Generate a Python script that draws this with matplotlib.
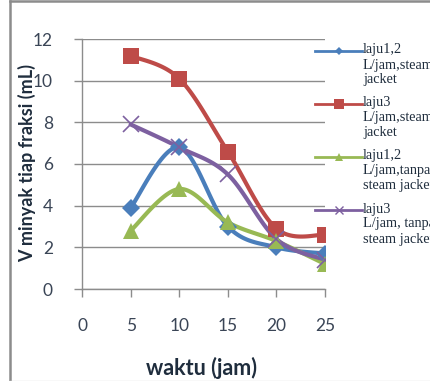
import numpy as np
import matplotlib
matplotlib.use("Agg")
import matplotlib.pyplot as plt
from matplotlib.lines import Line2D

# waktu (jam) dan volume minyak tiap fraksi (mL)
waktu = [5, 10, 15, 20, 25]
laju12_steam = [3.9, 6.8, 3.0, 2.0, 1.7]
laju3_steam = [11.2, 10.1, 6.6, 2.9, 2.6]
laju12_tanpa = [2.8, 4.8, 3.2, 2.3, 1.2]
laju3_tanpa = [7.9, 6.8, 5.5, 2.4, 1.4]

labels = ["laju1,2\nL/jam,steam\njacket",
          "laju3\nL/jam,steam\njacket",
          "laju1,2\nL/jam,tanpa\nsteam jacket",
          "laju3\nL/jam, tanpa\nsteam jacket"]

warna = ["#4a7ebb", "#be4b48", "#98b954", "#7d60a0"]
marker = ["D", "s", "^", "x"]
msize = [9, 12, 12, 11]
lmsize = [4, 7, 6, 6]


def smooth(x, y, n=30):
    # kurva halus ala Excel: bezier kubik dengan titik kontrol catmull-rom
    x = np.asarray(x, float)
    y = np.asarray(y, float)
    p = np.column_stack([x, y])
    pp = np.vstack([p[0], p, p[-1]])
    t = np.linspace(0, 1, n)[:, None]
    out = []
    for i in range(len(p) - 1):
        p0, p1, p2, p3 = pp[i], pp[i + 1], pp[i + 2], pp[i + 3]
        c1 = p1 + (p2 - p0) / 6
        c2 = p2 - (p3 - p1) / 6
        seg = ((1 - t) ** 3) * p1 + 3 * ((1 - t) ** 2) * t * c1 \
            + 3 * (1 - t) * t ** 2 * c2 + t ** 3 * p2
        out.append(seg if i == 0 else seg[1:])
    s = np.vstack(out)
    return s[:, 0], s[:, 1]


fig = plt.figure(figsize=(4.3, 3.81), dpi=100)
ax = fig.add_axes([82 / 430, 1 - 289 / 381, 243 / 430, 250 / 381])

tick_col = "#3a4556"
lab_col = "#1f2d3d"
grid_col = "#8c8c8c"

data = [laju12_steam, laju3_steam, laju12_tanpa, laju3_tanpa]
for yv, c, m, ms in zip(data, warna, marker, msize):
    sx, sy = smooth(waktu, yv)
    ax.plot(sx, sy, color=c, lw=3, solid_capstyle="round", zorder=3)
    mew = 1.2 if m == "x" else 0
    ax.plot(waktu, yv, ls="none", marker=m, ms=ms, color=c,
            mec=c, mew=mew, zorder=4)

ax.set_xlim(0, 25)
ax.set_ylim(0, 12)
ax.set_xticks(range(0, 26, 5))
ax.set_yticks(range(0, 13, 2))
ax.yaxis.grid(True, color=grid_col, lw=1)
ax.set_axisbelow(True)
for s in ["top", "right"]:
    ax.spines[s].set_visible(False)
for s in ["left", "bottom"]:
    ax.spines[s].set_color(grid_col)
    ax.spines[s].set_linewidth(1)
ax.tick_params(colors=grid_col, length=6, width=1, labelcolor=tick_col,
               labelsize=12.5, pad=15)
for t in ax.get_xticklabels() + ax.get_yticklabels():
    t.set_fontfamily("Lato")

ax.set_xlabel("waktu (jam)", fontsize=15.5, fontweight="bold",
              fontfamily="Lato", color=lab_col)
ax.set_ylabel("V minyak tiap fraksi (mL)", fontsize=13, fontweight="bold",
              fontfamily="Lato", color=lab_col)
ax.xaxis.set_label_coords(0.4926, -0.272)
ax.yaxis.set_label_coords(-0.189, 0.502)

# legenda manual
W, H = 430, 381
for i, (c, m, ms, lab) in enumerate(zip(warna, marker, lmsize, labels)):
    yy = 1 - (50.5 + i * 53) / H
    fig.add_artist(Line2D([315 / W, 362 / W], [yy, yy], color=c, lw=2))
    mew = 1 if m == "x" else 0
    fig.add_artist(Line2D([338.5 / W], [yy], marker=m, ms=ms, color=c,
                          mec=c, mew=mew, ls="none"))
    fig.text(363 / W, yy + 7 / H, lab, fontsize=10.3,
             fontfamily="Liberation Serif", color=lab_col, va="top",
             ha="left", linespacing=1.2)

# bingkai chart
fig.add_artist(Line2D([9.5 / W, 9.5 / W], [0, 1 - 1 / H], color="#8c8c8c", lw=1.8))
fig.add_artist(Line2D([9.5 / W, 1], [1 - 1 / H, 1 - 1 / H], color="#8c8c8c", lw=1.8))
fig.add_artist(Line2D([9.5 / W, 1], [0.5 / H, 0.5 / H], color="#dcdcdc", lw=1))

fig.savefig("out.png", dpi=100)
